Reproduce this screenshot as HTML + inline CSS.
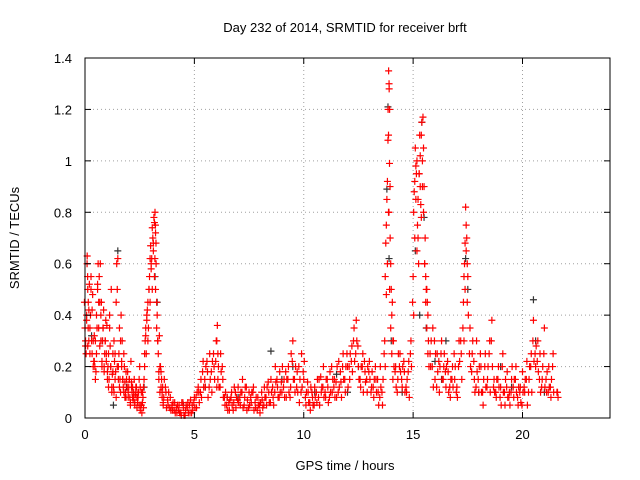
<!DOCTYPE html>
<html><head><meta charset="utf-8"><style>
html,body{margin:0;padding:0;background:#fff}
svg{display:block}
text{font-family:"Liberation Sans",sans-serif;font-size:13px;fill:#000}
</style></head><body>
<svg id="chart" width="640" height="480" xmlns="http://www.w3.org/2000/svg">
<rect width="640" height="480" fill="#fff"/>
<g id="grid"></g>
<g id="black"></g>
<g id="red"></g>
<rect x="85" y="58" width="525" height="360" fill="none" stroke="#000" stroke-width="1"/>
<g id="ticks"></g>
<text x="345" y="32" text-anchor="middle">Day 232 of 2014, SRMTID for receiver brft</text>
<text x="345" y="470" text-anchor="middle">GPS time / hours</text>
<text transform="translate(19,238) rotate(-90)" text-anchor="middle">SRMTID / TECUs</text>
</svg>
<script>
const xTicks=[0,5,10,15,20];
const yTicks=[0,0.2,0.4,0.6,0.8,1,1.2,1.4];
const yTickLabels=["0","0.2","0.4","0.6","0.8","1","1.2","1.4"];
const redTimes=[0.0,0.05,0.1,0.12,0.15,0.2,0.25,0.3,0.35,0.4,
0.45,0.5,0.55,0.6,0.65,0.7,0.75,0.8,0.85,0.9,
0.95,1.0,1.05,1.1,1.15,1.2,1.25,1.3,1.35,1.4,
1.45,1.5,1.55,1.6,1.65,1.7,1.75,1.8,1.85,1.9,
1.95,2.0,2.05,2.1,2.15,2.2,2.25,2.3,2.35,2.4,
2.45,2.5,2.55,2.6,2.65,2.7,2.75,2.8,2.85,2.9,
2.95,3.0,3.05,3.1,3.15,3.2,3.22,3.25,3.3,3.35,
3.4,3.45,3.5,3.55,3.6,3.7,3.8,3.9,4.0,4.1,
4.2,4.3,4.4,4.5,4.6,4.7,4.8,4.9,5.0,5.1,
5.2,5.3,5.4,5.5,5.6,5.7,5.8,5.9,6.0,6.05,
6.1,6.2,6.3,6.4,6.5,6.6,6.7,6.8,6.9,7.0,
7.1,7.2,7.3,7.4,7.5,7.6,7.7,7.8,7.9,8.0,
8.1,8.2,8.3,8.4,8.5,8.6,8.7,8.8,8.9,9.0,
9.1,9.2,9.3,9.4,9.5,9.6,9.7,9.8,9.9,10.0,
10.1,10.2,10.3,10.4,10.5,10.6,10.7,10.8,10.9,11.0,
11.1,11.2,11.3,11.4,11.5,11.6,11.7,11.8,11.9,12.0,
12.1,12.2,12.3,12.4,12.5,12.6,12.7,12.8,12.9,13.0,
13.1,13.2,13.3,13.4,13.5,13.6,13.7,13.75,13.8,13.85,
13.88,13.9,13.92,13.95,14.0,14.05,14.1,14.2,14.3,14.4,
14.5,14.6,14.7,14.8,14.9,15.0,15.05,15.1,15.15,15.2,
15.25,15.3,15.35,15.4,15.45,15.5,15.55,15.6,15.65,15.7,
15.8,15.9,16.0,16.1,16.2,16.3,16.4,16.5,16.6,16.7,
16.8,16.9,17.0,17.1,17.2,17.3,17.35,17.4,17.45,17.5,
17.6,17.7,17.8,17.9,18.0,18.1,18.2,18.3,18.4,18.5,
18.6,18.7,18.8,18.9,19.0,19.1,19.2,19.3,19.4,19.5,
19.6,19.7,19.8,19.9,20.0,20.1,20.2,20.3,20.4,20.5,
20.6,20.7,20.8,20.9,21.0,21.1,21.2,21.3,21.4,21.6];
const redValuesA=[0.35,0.25,0.63,0.55,0.45,0.52,0.4,0.3,0.48,0.22,
0.2,0.18,0.35,0.6,0.55,0.6,0.45,0.3,0.42,0.25,
0.38,0.36,0.2,0.15,0.28,0.5,0.17,0.12,0.22,0.18,
0.6,0.62,0.25,0.15,0.4,0.3,0.12,0.2,0.1,0.15,
0.18,0.12,0.08,0.22,0.1,0.07,0.15,0.09,0.12,0.06,
0.1,0.2,0.05,0.02,0.08,0.15,0.3,0.25,0.42,0.35,
0.55,0.67,0.62,0.7,0.78,0.8,0.75,0.6,0.4,0.25,
0.32,0.2,0.15,0.12,0.08,0.1,0.05,0.08,0.03,0.06,
0.02,0.05,0.01,0.04,0.03,0.06,0.02,0.05,0.08,0.04,
0.1,0.15,0.22,0.12,0.18,0.25,0.1,0.2,0.3,0.36,
0.2,0.25,0.15,0.05,0.08,0.03,0.1,0.06,0.04,0.12,
0.05,0.15,0.08,0.03,0.1,0.06,0.12,0.04,0.08,0.02,
0.07,0.12,0.05,0.1,0.15,0.08,0.2,0.12,0.18,0.1,
0.15,0.08,0.2,0.12,0.3,0.1,0.18,0.06,0.25,0.15,
0.05,0.1,0.03,0.08,0.12,0.06,0.15,0.1,0.2,0.08,
0.12,0.18,0.1,0.15,0.08,0.22,0.14,0.25,0.1,0.2,
0.15,0.28,0.35,0.38,0.2,0.12,0.25,0.18,0.1,0.22,
0.12,0.08,0.15,0.1,0.2,0.05,0.3,0.68,0.85,1.08,
1.35,1.3,0.99,0.7,0.5,0.45,0.3,0.2,0.15,0.25,
0.12,0.18,0.1,0.22,0.3,0.55,0.88,1.05,0.95,0.75,
0.6,1.1,0.83,1.15,1.17,0.9,0.7,0.5,0.45,0.3,
0.2,0.35,0.15,0.25,0.1,0.3,0.2,0.12,0.18,0.08,
0.2,0.15,0.12,0.3,0.25,0.45,0.6,0.82,0.7,0.55,
0.35,0.25,0.15,0.3,0.1,0.2,0.05,0.25,0.15,0.3,
0.38,0.15,0.08,0.2,0.12,0.25,0.05,0.18,0.1,0.15,
0.08,0.2,0.05,0.12,0.18,0.1,0.22,0.15,0.25,0.38,
0.2,0.3,0.25,0.15,0.35,0.1,0.2,0.08,0.25,0.1];
const redValuesB=[0.28,0.4,0.5,0.35,0.3,0.25,0.55,0.42,0.2,0.32,
0.15,0.25,0.5,0.45,0.28,0.4,0.22,0.35,0.2,0.3,
0.25,0.15,0.12,0.35,0.2,0.1,0.25,0.3,0.15,0.08,
0.2,0.15,0.35,0.1,0.2,0.15,0.25,0.08,0.18,0.12,
0.1,0.15,0.05,0.12,0.08,0.1,0.05,0.12,0.04,0.1,
0.05,0.12,0.1,0.06,0.04,0.2,0.35,0.4,0.3,0.5,
0.45,0.6,0.5,0.65,0.55,0.72,0.68,0.45,0.3,0.18,
0.2,0.12,0.1,0.06,0.15,0.04,0.1,0.03,0.06,0.02,
0.05,0.02,0.06,0.01,0.05,0.02,0.07,0.03,0.04,0.1,
0.06,0.08,0.12,0.2,0.08,0.15,0.22,0.15,0.12,0.25,
0.12,0.18,0.08,0.1,0.03,0.07,0.05,0.12,0.08,0.06,
0.1,0.04,0.12,0.07,0.05,0.1,0.03,0.08,0.05,0.06,
0.04,0.08,0.12,0.06,0.1,0.05,0.14,0.08,0.1,0.2,
0.08,0.15,0.1,0.25,0.15,0.2,0.1,0.15,0.12,0.22,
0.1,0.06,0.12,0.05,0.08,0.15,0.05,0.12,0.08,0.15,
0.06,0.1,0.15,0.08,0.2,0.12,0.08,0.15,0.2,0.12,
0.25,0.18,0.22,0.3,0.15,0.2,0.1,0.14,0.2,0.15,
0.18,0.15,0.1,0.05,0.12,0.15,0.2,0.48,0.6,0.8,
1.28,1.2,0.9,0.6,0.4,0.3,0.2,0.12,0.25,0.18,
0.2,0.1,0.15,0.08,0.2,0.4,0.7,0.98,1.0,0.85,
0.95,1.02,0.78,0.9,1.05,0.6,0.55,0.35,0.4,0.2,
0.3,0.12,0.25,0.18,0.2,0.15,0.25,0.2,0.1,0.15,
0.12,0.2,0.08,0.22,0.15,0.3,0.5,0.75,0.6,0.4,
0.2,0.3,0.1,0.18,0.2,0.1,0.15,0.12,0.2,0.1,
0.2,0.1,0.15,0.12,0.05,0.1,0.15,0.08,0.05,0.2,
0.15,0.1,0.12,0.06,0.1,0.15,0.05,0.2,0.1,0.22,
0.28,0.18,0.1,0.2,0.12,0.18,0.12,0.15,0.1,0.08];
const redValuesC=[0.45,0.3,0.38,0.6,0.28,0.42,0.35,0.5,0.25,0.3,
0.22,0.3,0.4,0.52,0.35,0.45,0.3,0.2,0.35,0.18,
0.3,0.22,0.18,0.25,0.4,0.2,0.12,0.18,0.1,0.25,
0.45,0.5,0.2,0.12,0.3,0.22,0.15,0.1,0.14,0.08,
0.12,0.08,0.15,0.06,0.14,0.12,0.08,0.06,0.1,0.08,
0.08,0.15,0.03,0.05,0.1,0.12,0.25,0.32,0.38,0.45,
0.5,0.62,0.58,0.74,0.68,0.76,0.62,0.5,0.35,0.3,
0.15,0.1,0.18,0.08,0.05,0.12,0.07,0.04,0.05,0.03,
0.04,0.03,0.02,0.06,0.01,0.04,0.05,0.02,0.06,0.08,
0.12,0.1,0.18,0.15,0.22,0.12,0.18,0.25,0.22,0.3,
0.15,0.12,0.2,0.08,0.05,0.06,0.08,0.03,0.1,0.07,
0.08,0.1,0.05,0.12,0.04,0.08,0.1,0.06,0.03,0.05,
0.1,0.05,0.08,0.14,0.06,0.12,0.1,0.15,0.08,0.14,
0.12,0.18,0.15,0.08,0.22,0.15,0.12,0.2,0.1,0.18,
0.08,0.14,0.06,0.1,0.05,0.1,0.08,0.16,0.12,0.1,
0.15,0.08,0.2,0.12,0.14,0.1,0.18,0.2,0.15,0.25,
0.2,0.22,0.3,0.25,0.28,0.15,0.2,0.22,0.15,0.18,
0.1,0.12,0.2,0.15,0.08,0.1,0.25,0.55,0.75,0.92,
1.2,1.1,0.8,0.5,0.35,0.25,0.15,0.18,0.1,0.2,
0.15,0.22,0.12,0.18,0.25,0.45,0.8,0.92,0.85,0.65,
0.7,0.95,0.9,1.1,1.0,0.8,0.6,0.45,0.5,0.25,
0.25,0.2,0.3,0.12,0.22,0.25,0.15,0.18,0.22,0.12,
0.15,0.25,0.1,0.2,0.3,0.35,0.55,0.68,0.65,0.45,
0.25,0.18,0.22,0.12,0.15,0.25,0.1,0.2,0.12,0.25,
0.3,0.12,0.1,0.15,0.08,0.2,0.1,0.12,0.08,0.1,
0.12,0.15,0.08,0.1,0.05,0.12,0.15,0.1,0.2,0.3,
0.25,0.22,0.15,0.12,0.25,0.15,0.1,0.12,0.2,0.1];
const blackTimes=[0.3,0.8,1.3,1.5,1.9,3.2,3.3,5.5,7.0,8.5,9.0,10.5,11.5,12.5,13.8,13.85,13.9,14.0,14.5,15.1,15.3,15.4,15.5,15.6,16.0,16.3,16.5,17.4,17.5,18.0,19.0,20.5,20.6,21.0,2.7,4.5,6.5,9.5,12.0,19.5];
const blackValues=[0.32,0.3,0.05,0.65,0.12,0.55,0.45,0.12,0.08,0.26,0.15,0.1,0.17,0.2,0.89,1.21,0.62,0.3,0.1,0.65,0.4,1.15,0.78,0.35,0.22,0.15,0.3,0.62,0.5,0.1,0.2,0.46,0.3,0.1,0.12,0.05,0.08,0.2,0.1,0.12];

const X0=85,X1=610,Y0=418,Y1=58,XMAX=24,YMAX=1.4;
const sx=t=>X0+t/XMAX*(X1-X0);
const sy=v=>Y0-v/YMAX*(Y0-Y1);
const NS="http://www.w3.org/2000/svg";
function mk(tag,attrs,parent){const e=document.createElementNS(NS,tag);for(const k in attrs)e.setAttribute(k,attrs[k]);parent.appendChild(e);return e;}
const grid=document.getElementById('grid'),ticks=document.getElementById('ticks');
xTicks.forEach(t=>{const x=sx(t);
 if(t>0){const g=mk('line',{x1:x,x2:x,y1:Y1,y2:Y0,stroke:'#a0a0a0','stroke-dasharray':'1,3'},grid);
 
 }
 mk('line',{x1:x,x2:x,y1:Y0,y2:Y0-6,stroke:'#000'},ticks);
 mk('line',{x1:x,x2:x,y1:Y1,y2:Y1+6,stroke:'#000'},ticks);
 const l=mk('text',{x:x,y:Y0+21,'text-anchor':'middle'},ticks);l.textContent=String(t);
 
 
});
yTicks.forEach((v,i)=>{const y=sy(v);
 if(v>0&&v<YMAX){const g=mk('line',{x1:X0,x2:X1,y1:y,y2:y,stroke:'#a0a0a0','stroke-dasharray':'1,3'},grid);
 
 }
 mk('line',{x1:X0,x2:X0+6,y1:y,y2:y,stroke:'#000'},ticks);
 mk('line',{x1:X1,x2:X1-6,y1:y,y2:y,stroke:'#000'},ticks);
 const l=mk('text',{x:X0-13,y:y+5,'text-anchor':'end'},ticks);l.textContent=yTickLabels[i];
 
 
});
function plus(g,t,v,c){const x=sx(t),y=sy(v);
 return mk('path',{d:`M${x-3.5} ${y}h7M${x} ${y-3.5}v7`,stroke:c,'stroke-width':1.2,fill:'none'},g);}
const bg=document.getElementById('black');
blackTimes.forEach((t,i)=>{const p=plus(bg,t,blackValues[i],'#333');
 
 });
const rg=document.getElementById('red');
redTimes.forEach((t,i)=>{
 const a=plus(rg,t,redValuesA[i],'#ff0000');
 
 
 const b=plus(rg,t+0.025,redValuesB[i],'#ff0000');
 
 
 const c=plus(rg,t-0.025,redValuesC[i],'#ff0000');
 
 
});
</script>
</body></html>
